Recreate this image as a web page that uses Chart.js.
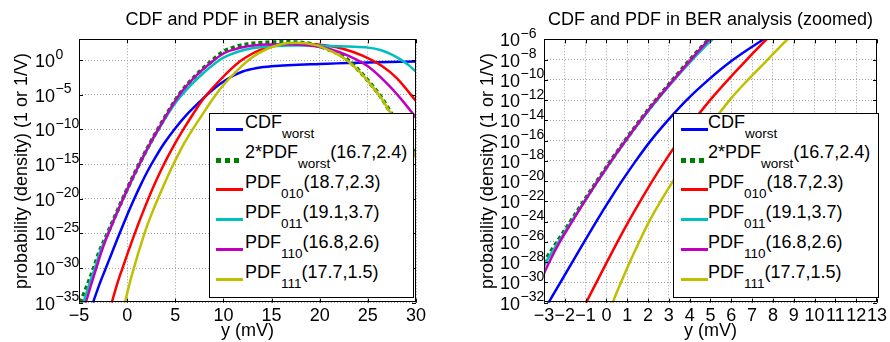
<!DOCTYPE html>
<html>
<head>
<meta charset="utf-8">
<script src="https://cdn.jsdelivr.net/npm/chart.js@4.4.1/dist/chart.umd.min.js"></script>
<style>
  html, body { margin: 0; padding: 0; background: #fff; }
  #wrap { position: relative; width: 890px; height: 342px; overflow: hidden; }
  .panel { position: absolute; top: 0; width: 445px; height: 342px; }
  .panel canvas { position: absolute; left: 0; top: 0; }
  .legend { position: absolute; background: #fff; border: 1px solid #000; box-sizing: border-box;
            font-family: "Liberation Sans", Arial, sans-serif; font-size: 18px; color: #000; overflow: hidden; }
  .row { position: absolute; left: 0; right: 0; height: 30px; white-space: nowrap; }
  .row .txt { position: absolute; top: 0; line-height: 30px; }
  .row .sub { font-size: 13.5px; position: relative; top: 10px; }
  .swatch { position: absolute; height: 3px; }
</style>
</head>
<body>
<div id="wrap">
  <div class="panel" style="left:0"><canvas id="chartFull" width="445" height="342"></canvas>
    <div class="legend" id="legendFull" style="left:209px; top:113px; width:205px; height:185px"></div></div>
  <div class="panel" style="left:445px"><canvas id="chartZoom" width="445" height="342"></canvas>
    <div class="legend" id="legendZoom" style="left:228px; top:113px; width:206px; height:185px"></div></div>
</div>
<script>
(function () {
  'use strict';

  // series labels
  const names = ['CDF', '2*PDF', 'PDF', 'PDF', 'PDF', 'PDF'];
  const subs = ['worst', 'worst', '010', '011', '110', '111'];
  const params = ['', '(16.7,2.4)', '(18.7,2.3)', '(19.1,3.7)', '(16.8,2.6)', '(17.7,1.5)'];
  const colors = ['#0000ff', '#008000', '#ff0000', '#00bfbf', '#bf00bf', '#bfbf00'];

  // values: x in mV, y as power of ten
  const cdfX = [-3.55, -2.78, -2.21, -1.64, -1.07, -0.49, 0.11, 0.74, 1.41, 2.13, 2.95, 3.85, 4.9, 6.1, 7.55, 8.5, 9.6, 10.5, 12, 13.5, 15, 20, 25, 30];
  const cdfExp = [-35, -32, -30, -28, -26, -24, -22, -20, -18, -16, -14, -12, -10, -8, -6, -4.75, -3.5, -2.65, -1.65, -1.15, -0.9, -0.55, -0.35, -0.2];

  const pdfWorstX = [-4.85, -4.0, -3.45, -2.98, -2.36, -1.72, -1.09, -0.45, 0.21, 0.9, 1.62, 2.38, 3.19, 4.03, 4.92, 5.5, 6.5, 7.5, 8.5, 10, 11, 12.5, 14.5, 16.7, 19, 20.5, 22.6, 24, 25.4, 26.3, 27.3, 28.5, 30];
  const pdfWorstExp = [-35, -32, -30, -28, -26, -24, -22, -20, -18, -16, -14, -12, -10, -8, -6, -4.8, -3.15, -1.7, -0.45, 1.2, 1.8, 2.3, 2.55, 2.6, 2.35, 1.75, 0.35, -1.4, -3.6, -5.2, -7.4, -10.1, -13.8];

  const pdf010X = [-1.6, -0.97, -0.48, 0.02, 0.53, 1.06, 1.62, 2.2, 2.82, 3.48, 4.2, 4.98, 5.84, 6.75, 7.7, 8.7, 9.7, 10.7, 11.7, 12.7, 13.7, 14.7, 16, 18.7, 20.5, 22.5, 24.5, 26.5, 28, 30];
  const pdf010Exp = [-35, -32, -30, -28, -26, -24, -22, -20, -18, -16, -14, -12, -10, -8, -6, -4.3, -2.8, -1.4, -0.2, 0.7, 1.4, 1.85, 2.2, 2.3, 2.15, 1.6, 0.6, -0.9, -2.6, -5.9];

  const pdf011X = [-4.55, -3.85, -3.35, -2.9, -2.3, -1.68, -1.06, -0.42, 0.24, 0.93, 1.66, 2.43, 3.26, 4.13, 5.1, 6, 7.5, 9, 10, 11.5, 13, 15, 17, 19.1, 21, 23, 25, 26.3, 27.5, 28.5, 29.3, 30];
  const pdf011Exp = [-35, -32, -30, -28, -26, -24, -22, -20, -18, -16, -14, -12, -10, -8, -6, -4.5, -2.4, -0.6, 0.35, 1.2, 1.7, 2.0, 2.1, 2.1, 2.05, 1.95, 1.8, 1.46, 0.8, 0.0, -0.8, -1.67];

  const pdf110X = [-4.3, -3.65, -3.2, -2.75, -2.24, -1.65, -1.05, -0.42, 0.23, 0.92, 1.64, 2.4, 3.22, 4.06, 4.94, 5.5, 6.5, 7.5, 8.5, 10, 11, 12.5, 14.5, 16.8, 19, 21, 23, 25, 27, 28.5, 30];
  const pdf110Exp = [-35, -32, -30, -28, -26, -24, -22, -20, -18, -16, -14, -12, -10, -8, -6, -4.85, -3.2, -1.8, -0.6, 0.95, 1.5, 2.0, 2.25, 2.3, 2.1, 1.6, 0.6, -0.9, -3.4, -5.7, -8.3];

  const pdf111X = [-0.24, 0.3, 0.7, 1.12, 1.57, 2.05, 2.6, 3.2, 3.82, 4.47, 5.17, 5.92, 6.8, 7.75, 8.7, 10, 11.5, 13, 14.5, 16, 17.7, 19.5, 21, 22.6, 24, 25.4, 26.3, 27.3, 28.5, 30];
  const pdf111Exp = [-35, -32, -30, -28, -26, -24, -22, -20, -18, -16, -14, -12, -10, -8, -6, -3.6, -1.4, 0.4, 1.6, 2.3, 2.5, 2.2, 1.4, 0.2, -1.5, -3.7, -5.3, -7.5, -10.2, -14];

  const seriesX = [cdfX, pdfWorstX, pdf010X, pdf011X, pdf110X, pdf111X];
  const seriesExp = [cdfExp, pdfWorstExp, pdf010Exp, pdf011Exp, pdf110Exp, pdf111Exp];
  const drawOrder = [6, 5, 4, 3, 2, 1];

  // tick values
  const fullYTickExps = [0, -5, -10, -15, -20, -25, -30, -35];
  const zoomYTickExps = [-6, -8, -10, -12, -14, -16, -18, -20, -22, -24, -26, -28, -30, -32];

  const FONT = '"Liberation Sans", Arial, sans-serif';
  Chart.defaults.font.family = FONT;
  Chart.defaults.color = '#000';

  function minusLabel(v) { return v < 0 ? '\u2212' + (-v) : String(v); }

  function buildDatasets() {
    return seriesX.map((xs, i) => ({
      label: names[i] + '_' + subs[i] + params[i],
      data: xs.map((x, j) => ({ x: x, y: Math.pow(10, seriesExp[i][j]) })),
      borderColor: colors[i],
      borderWidth: i === 1 ? 4 : 2.5,
      borderDash: i === 1 ? [4, 3] : [],
      pointRadius: 0,
      fill: false,
      cubicInterpolationMode: 'monotone',
      order: drawOrder[i]
    }));
  }

  // box round the axes with short inward ticks, as matlab does
  const framePlugin = {
    id: 'frame',
    afterDatasetsDraw(chart) {
      const { ctx, chartArea: a, scales } = chart;
      ctx.save();
      ctx.strokeStyle = '#000';
      ctx.lineWidth = 1;
      ctx.beginPath();
      scales.x.ticks.forEach(t => {
        const px = Math.round(scales.x.getPixelForValue(t.value)) + 0.5;
        ctx.moveTo(px, a.bottom); ctx.lineTo(px, a.bottom - 4);
        ctx.moveTo(px, a.top); ctx.lineTo(px, a.top + 4);
      });
      scales.y.ticks.forEach(t => {
        const py = Math.round(scales.y.getPixelForValue(t.value)) + 0.5;
        ctx.moveTo(a.left, py); ctx.lineTo(a.left + 4, py);
        ctx.moveTo(a.right, py); ctx.lineTo(a.right - 4, py);
      });
      ctx.stroke();
      ctx.strokeRect(Math.round(a.left) + 0.5, Math.round(a.top) + 0.5,
                     Math.round(a.right - a.left) - 1, Math.round(a.bottom - a.top) - 1);
      ctx.restore();
    }
  };

  // "10" with a raised exponent for each log tick
  const powerLabelPlugin = {
    id: 'powerLabels',
    afterDraw(chart, args, opts) {
      const { ctx, scales: { y } } = chart;
      ctx.save();
      ctx.fillStyle = '#000';
      ctx.textBaseline = 'alphabetic';
      y.ticks.forEach(t => {
        const py = y.getPixelForValue(t.value);
        const e = String(Math.round(Math.log10(t.value))).replace('-', '\u2212');
        ctx.font = '18px ' + FONT;
        ctx.textAlign = 'right';
        ctx.fillText('10', opts.baseRight, py + 7);
        ctx.font = '14px ' + FONT;
        ctx.textAlign = 'left';
        ctx.fillText(e, opts.baseRight + 0.5, py - 1.5);
      });
      ctx.restore();
    }
  };

  function makeChart(canvasId, cfg) {
    return new Chart(document.getElementById(canvasId), {
      type: 'line',
      data: { datasets: buildDatasets() },
      options: {
        responsive: false,
        animation: false,
        events: [],
        layout: { padding: { left: 0, right: cfg.padRight, top: 0, bottom: 0 } },
        plugins: {
          legend: { display: false },
          tooltip: { enabled: false },
          title: {
            display: true, text: cfg.title, fullSize: false, color: '#000',
            font: { size: 18, weight: 'normal' }, padding: { top: 9, bottom: 8.7 }
          },
          powerLabels: { baseRight: cfg.baseRight }
        },
        scales: {
          x: {
            type: 'linear', min: cfg.xMin, max: cfg.xMax,
            ticks: { stepSize: cfg.xStep, callback: minusLabel, autoSkip: false, maxRotation: 0, minRotation: 0,
                     font: { size: 18 }, color: '#000', padding: 3 },
            grid: { color: '#a0a0a0', drawTicks: false, lineWidth: 1 },
            border: { display: false, dash: [1, 2] },
            title: { display: true, text: 'y (mV)', color: '#000', font: { size: 18 }, padding: { top: 0, bottom: 0 } },
            afterFit: (s) => { s.height = 39.3; }
          },
          y: {
            type: 'logarithmic', min: Math.pow(10, cfg.yMinExp), max: Math.pow(10, cfg.yMaxExp),
            afterBuildTicks: (s) => { s.ticks = cfg.yTicks.map(e => ({ value: Math.pow(10, e) })); },
            ticks: { display: false },
            grid: { color: '#a0a0a0', drawTicks: false, lineWidth: 1 },
            border: { display: false, dash: [1, 2] },
            title: { display: true, text: 'probability (density) (1 or 1/V)', color: '#000',
                     font: { size: 18 }, padding: { top: cfg.yTitlePad, bottom: 0 } },
            afterFit: (s) => { s.width = cfg.yWidth; }
          }
        }
      },
      plugins: [framePlugin, powerLabelPlugin]
    });
  }

  makeChart('chartFull', {
    title: 'CDF and PDF in BER analysis', padRight: 29,
    xMin: -5, xMax: 30, xStep: 5, yMinExp: -35, yMaxExp: 3, yTicks: fullYTickExps,
    yWidth: 79, baseRight: 55, yTitlePad: 11.7
  });

  makeChart('chartZoom', {
    title: 'CDF and PDF in BER analysis (zoomed)', padRight: 10.7,
    xMin: -3, xMax: 13, xStep: 1, yMinExp: -32, yMaxExp: -6, yTicks: zoomYTickExps,
    yWidth: 99, baseRight: 75, yTitlePad: 32
  });

  // legend boxes drawn over the axes, with subscripts as real text
  function buildLegend(id, swatchLeft, textLeft) {
    const box = document.getElementById(id);
    names.forEach((n, i) => {
      const row = document.createElement('div');
      row.className = 'row';
      row.style.top = (-6.7 + 30 * i) + 'px';
      const sw = document.createElement('span');
      sw.className = 'swatch';
      sw.style.left = swatchLeft + 'px';
      if (i === 1) {
        sw.style.width = '23px';
        sw.style.height = '5px';
        sw.style.top = '20.7px';
        sw.style.background = 'repeating-linear-gradient(90deg, ' + colors[i] + ' 0 5px, transparent 5px 9px)';
      } else {
        sw.style.width = '27px';
        sw.style.top = '21px';
        sw.style.background = colors[i];
      }
      const txt = document.createElement('span');
      txt.className = 'txt';
      txt.style.left = textLeft + 'px';
      txt.innerHTML = n + '<span class="sub">' + subs[i] + '</span>' + params[i];
      row.appendChild(sw);
      row.appendChild(txt);
      box.appendChild(row);
    });
  }

  buildLegend('legendFull', 6, 35);
  buildLegend('legendZoom', 7, 34);
})();
</script>
</body>
</html>
